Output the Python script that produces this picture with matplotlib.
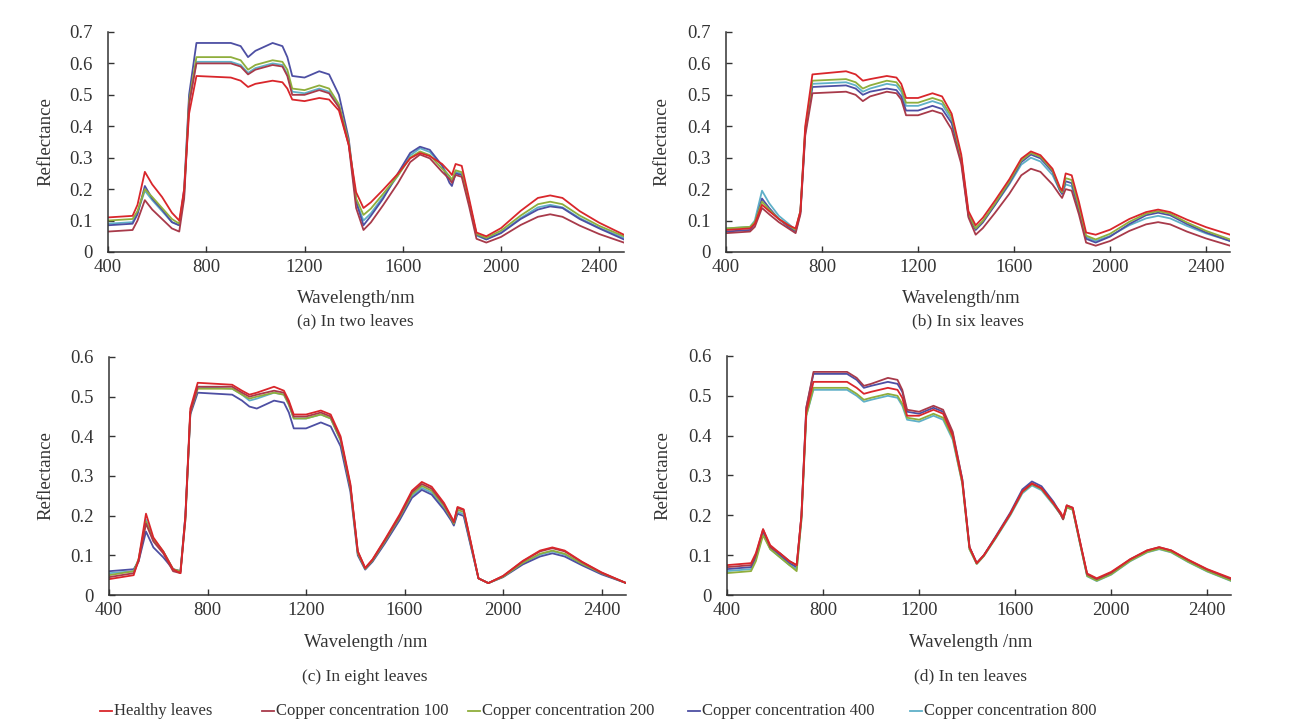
import matplotlib.pyplot as plt
from matplotlib.lines import Line2D

plt.rcParams["font.family"] = ["Liberation Serif", "DejaVu Serif"]

# Wavelength sample points (nm)
WL = [400, 500, 520, 550, 580, 620, 660, 690, 710, 730, 760, 900, 940, 970, 1000,
      1070, 1110, 1130, 1150, 1200, 1260, 1300, 1340, 1380, 1410, 1440, 1470, 1520,
      1580, 1630, 1670, 1710, 1760, 1790, 1800, 1815, 1840, 1870, 1900, 1940, 2000,
      2080, 2150, 2200, 2250, 2320, 2400, 2500]

# --- (a) two leaves ---
a_healthy = [0.11, 0.115, 0.15, 0.255, 0.215, 0.175, 0.125, 0.10, 0.20, 0.44, 0.56, 0.555, 0.545, 0.525, 0.535,
             0.545, 0.54, 0.52, 0.485, 0.48, 0.49, 0.485, 0.45, 0.34, 0.19, 0.14, 0.158, 0.198,
             0.249, 0.298, 0.315, 0.305, 0.28, 0.255, 0.245, 0.28, 0.274, 0.17, 0.062, 0.05, 0.076,
             0.131, 0.172, 0.18, 0.172, 0.13, 0.093, 0.055]
a_cu100 = [0.065, 0.07, 0.10, 0.165, 0.135, 0.105, 0.075, 0.065, 0.17, 0.47, 0.60, 0.60, 0.59, 0.565, 0.58,
           0.595, 0.59, 0.56, 0.50, 0.50, 0.515, 0.505, 0.46, 0.34, 0.14, 0.07, 0.094, 0.149,
           0.219, 0.286, 0.31, 0.298, 0.255, 0.232, 0.22, 0.245, 0.239, 0.145, 0.042, 0.03, 0.048,
           0.086, 0.112, 0.12, 0.112, 0.084, 0.057, 0.03]
a_cu200 = [0.10, 0.105, 0.13, 0.20, 0.175, 0.14, 0.105, 0.09, 0.19, 0.48, 0.62, 0.62, 0.61, 0.58, 0.595,
           0.61, 0.605, 0.58, 0.52, 0.515, 0.53, 0.52, 0.47, 0.35, 0.17, 0.118, 0.138, 0.185,
           0.243, 0.30, 0.32, 0.308, 0.265, 0.242, 0.23, 0.26, 0.254, 0.16, 0.057, 0.045, 0.068,
           0.116, 0.152, 0.16, 0.152, 0.116, 0.083, 0.05]
a_cu400 = [0.085, 0.09, 0.12, 0.21, 0.17, 0.135, 0.095, 0.085, 0.20, 0.50, 0.665, 0.665, 0.655, 0.62, 0.64,
           0.665, 0.655, 0.62, 0.56, 0.555, 0.575, 0.565, 0.50, 0.36, 0.16, 0.085, 0.115, 0.17,
           0.25, 0.315, 0.335, 0.325, 0.275, 0.22, 0.21, 0.25, 0.245, 0.16, 0.055, 0.04, 0.06,
           0.105, 0.135, 0.145, 0.14, 0.105, 0.075, 0.04]
a_cu800 = [0.09, 0.095, 0.125, 0.195, 0.165, 0.13, 0.095, 0.085, 0.18, 0.475, 0.605, 0.605, 0.595, 0.57, 0.585,
           0.60, 0.595, 0.565, 0.51, 0.505, 0.52, 0.51, 0.465, 0.345, 0.16, 0.10, 0.123, 0.176,
           0.243, 0.307, 0.33, 0.318, 0.275, 0.237, 0.225, 0.255, 0.249, 0.155, 0.052, 0.04, 0.062,
           0.108, 0.142, 0.15, 0.142, 0.108, 0.077, 0.045]

# --- (b) six leaves ---
b_healthy = [0.07, 0.075, 0.09, 0.15, 0.13, 0.105, 0.085, 0.075, 0.13, 0.40, 0.565, 0.575, 0.565, 0.545, 0.55,
             0.56, 0.555, 0.535, 0.49, 0.49, 0.505, 0.495, 0.44, 0.31, 0.13, 0.085, 0.109, 0.163,
             0.231, 0.297, 0.32, 0.308, 0.265, 0.207, 0.195, 0.25, 0.244, 0.16, 0.062, 0.055, 0.071,
             0.105, 0.127, 0.135, 0.127, 0.103, 0.079, 0.055]
b_cu100 = [0.06, 0.065, 0.08, 0.14, 0.12, 0.095, 0.075, 0.06, 0.12, 0.37, 0.505, 0.51, 0.50, 0.48, 0.495,
           0.51, 0.505, 0.485, 0.435, 0.435, 0.45, 0.44, 0.39, 0.28, 0.11, 0.055, 0.076, 0.124,
           0.185, 0.244, 0.265, 0.255, 0.215, 0.182, 0.172, 0.20, 0.195, 0.12, 0.03, 0.02, 0.035,
           0.067, 0.088, 0.095, 0.088, 0.065, 0.043, 0.02]
b_cu200 = [0.075, 0.08, 0.095, 0.16, 0.135, 0.105, 0.085, 0.07, 0.13, 0.39, 0.545, 0.55, 0.54, 0.52, 0.53,
           0.545, 0.54, 0.52, 0.475, 0.475, 0.49, 0.48, 0.43, 0.30, 0.12, 0.075, 0.099, 0.154,
           0.224, 0.291, 0.315, 0.303, 0.26, 0.202, 0.19, 0.235, 0.229, 0.145, 0.052, 0.04, 0.058,
           0.096, 0.122, 0.13, 0.122, 0.094, 0.067, 0.04]
b_cu400 = [0.065, 0.07, 0.09, 0.17, 0.14, 0.105, 0.08, 0.065, 0.125, 0.38, 0.525, 0.53, 0.52, 0.50, 0.51,
           0.52, 0.515, 0.495, 0.45, 0.45, 0.465, 0.455, 0.41, 0.29, 0.115, 0.07, 0.094, 0.149,
           0.219, 0.286, 0.31, 0.298, 0.255, 0.197, 0.185, 0.225, 0.219, 0.135, 0.042, 0.03, 0.049,
           0.089, 0.117, 0.125, 0.117, 0.089, 0.062, 0.035]
b_cu800 = [0.075, 0.08, 0.10, 0.195, 0.155, 0.115, 0.09, 0.07, 0.13, 0.385, 0.535, 0.54, 0.53, 0.51, 0.52,
           0.535, 0.53, 0.51, 0.465, 0.465, 0.48, 0.47, 0.42, 0.30, 0.12, 0.075, 0.098, 0.149,
           0.215, 0.278, 0.30, 0.288, 0.245, 0.197, 0.185, 0.215, 0.209, 0.13, 0.047, 0.035, 0.051,
           0.085, 0.107, 0.115, 0.107, 0.083, 0.059, 0.035]

# --- (c) eight leaves ---
c_healthy = [0.04, 0.05, 0.09, 0.205, 0.145, 0.11, 0.065, 0.055, 0.20, 0.47, 0.535, 0.53, 0.515, 0.505, 0.51,
             0.525, 0.515, 0.49, 0.455, 0.455, 0.465, 0.455, 0.40, 0.28, 0.11, 0.068, 0.09, 0.14,
             0.203, 0.263, 0.285, 0.273, 0.232, 0.197, 0.185, 0.222, 0.216, 0.13, 0.042, 0.03, 0.048,
             0.086, 0.112, 0.12, 0.112, 0.084, 0.057, 0.03]
c_cu100 = [0.045, 0.055, 0.085, 0.18, 0.135, 0.105, 0.06, 0.055, 0.19, 0.46, 0.525, 0.525, 0.51, 0.50, 0.505,
           0.515, 0.51, 0.485, 0.45, 0.45, 0.46, 0.45, 0.395, 0.275, 0.11, 0.068, 0.089, 0.138,
           0.199, 0.259, 0.28, 0.268, 0.228, 0.195, 0.183, 0.22, 0.214, 0.129, 0.042, 0.03, 0.048,
           0.085, 0.11, 0.118, 0.11, 0.083, 0.056, 0.03]
c_cu200 = [0.05, 0.06, 0.09, 0.185, 0.14, 0.11, 0.065, 0.06, 0.19, 0.46, 0.52, 0.52, 0.505, 0.495, 0.50,
           0.51, 0.505, 0.48, 0.445, 0.445, 0.455, 0.445, 0.39, 0.27, 0.105, 0.066, 0.087, 0.135,
           0.196, 0.254, 0.275, 0.263, 0.224, 0.192, 0.18, 0.215, 0.209, 0.126, 0.042, 0.03, 0.046,
           0.081, 0.104, 0.112, 0.104, 0.079, 0.055, 0.03]
c_cu400 = [0.06, 0.065, 0.085, 0.16, 0.12, 0.095, 0.065, 0.06, 0.20, 0.455, 0.51, 0.505, 0.49, 0.475, 0.47,
           0.49, 0.485, 0.46, 0.42, 0.42, 0.435, 0.425, 0.375, 0.26, 0.10, 0.064, 0.084, 0.13,
           0.189, 0.245, 0.265, 0.253, 0.215, 0.187, 0.175, 0.205, 0.199, 0.12, 0.042, 0.03, 0.045,
           0.077, 0.097, 0.105, 0.097, 0.075, 0.052, 0.03]
c_cu800 = [0.055, 0.06, 0.09, 0.19, 0.14, 0.11, 0.065, 0.06, 0.20, 0.46, 0.525, 0.52, 0.505, 0.49, 0.495,
           0.51, 0.505, 0.48, 0.445, 0.445, 0.455, 0.445, 0.39, 0.275, 0.105, 0.066, 0.086, 0.133,
           0.192, 0.25, 0.27, 0.258, 0.22, 0.19, 0.178, 0.21, 0.204, 0.123, 0.042, 0.03, 0.046,
           0.08, 0.102, 0.11, 0.102, 0.078, 0.054, 0.03]

# --- (d) ten leaves ---
d_healthy = [0.075, 0.08, 0.105, 0.165, 0.125, 0.105, 0.085, 0.075, 0.20, 0.46, 0.535, 0.535, 0.52, 0.505, 0.51,
             0.52, 0.515, 0.495, 0.45, 0.45, 0.465, 0.455, 0.40, 0.285, 0.12, 0.08, 0.10, 0.146,
             0.204, 0.26, 0.28, 0.268, 0.23, 0.207, 0.195, 0.225, 0.219, 0.135, 0.054, 0.042, 0.058,
             0.09, 0.112, 0.12, 0.112, 0.089, 0.065, 0.042]
d_cu100 = [0.07, 0.075, 0.10, 0.165, 0.12, 0.105, 0.085, 0.075, 0.20, 0.47, 0.56, 0.56, 0.545, 0.525, 0.53,
           0.545, 0.54, 0.515, 0.465, 0.46, 0.475, 0.465, 0.41, 0.29, 0.12, 0.08, 0.10, 0.146,
           0.204, 0.26, 0.28, 0.268, 0.23, 0.202, 0.19, 0.225, 0.219, 0.135, 0.052, 0.04, 0.056,
           0.09, 0.112, 0.12, 0.112, 0.088, 0.064, 0.04]
d_cu200 = [0.055, 0.06, 0.085, 0.15, 0.115, 0.095, 0.075, 0.06, 0.19, 0.45, 0.52, 0.52, 0.505, 0.49, 0.495,
           0.505, 0.50, 0.48, 0.445, 0.44, 0.455, 0.445, 0.395, 0.28, 0.115, 0.078, 0.098, 0.144,
           0.202, 0.258, 0.278, 0.266, 0.228, 0.202, 0.19, 0.22, 0.214, 0.13, 0.048, 0.036, 0.052,
           0.086, 0.108, 0.116, 0.108, 0.084, 0.06, 0.036]
d_cu400 = [0.065, 0.07, 0.095, 0.16, 0.12, 0.10, 0.08, 0.07, 0.20, 0.47, 0.555, 0.555, 0.54, 0.52, 0.525,
           0.535, 0.53, 0.51, 0.46, 0.455, 0.47, 0.46, 0.405, 0.29, 0.12, 0.08, 0.10, 0.148,
           0.207, 0.265, 0.285, 0.273, 0.234, 0.204, 0.192, 0.222, 0.216, 0.132, 0.05, 0.038, 0.054,
           0.088, 0.11, 0.118, 0.11, 0.086, 0.062, 0.038]
d_cu800 = [0.06, 0.065, 0.09, 0.155, 0.115, 0.095, 0.075, 0.065, 0.19, 0.45, 0.515, 0.515, 0.50, 0.485, 0.49,
           0.50, 0.495, 0.475, 0.44, 0.435, 0.45, 0.44, 0.39, 0.28, 0.115, 0.078, 0.098, 0.143,
           0.20, 0.255, 0.275, 0.263, 0.226, 0.202, 0.19, 0.22, 0.214, 0.13, 0.047, 0.035, 0.051,
           0.085, 0.107, 0.115, 0.107, 0.083, 0.059, 0.035]

LABELS = ["Healthy leaves", "Copper concentration 100", "Copper concentration 200",
          "Copper concentration 400", "Copper concentration 800"]
COLORS = ["#d9262b", "#a83a4a", "#8fae3c", "#4d4fa3", "#5fb0c8"]
X_TICKS = [400, 800, 1200, 1600, 2000, 2400]

# (rect, ymax, series, xlabel, xlabel pos, caption, caption pos, ylabel x in axes coords)
panels = [
    ([0.0827, 0.650, 0.395, 0.3056], 0.7, [a_healthy, a_cu100, a_cu200, a_cu400, a_cu800],
     "Wavelength/nm", (0.273, 0.586), "(a) In two leaves", (0.272, 0.553), -0.120),
    ([0.5559, 0.650, 0.386, 0.3056], 0.7, [b_healthy, b_cu100, b_cu200, b_cu400, b_cu800],
     "Wavelength/nm", (0.736, 0.586), "(b) In six leaves", (0.741, 0.553), -0.127),
    ([0.0835, 0.1736, 0.396, 0.3306], 0.6, [c_healthy, c_cu100, c_cu200, c_cu400, c_cu800],
     "Wavelength /nm", (0.280, 0.108), "(c) In eight leaves", (0.279, 0.060), -0.122),
    ([0.5567, 0.1736, 0.386, 0.3320], 0.6, [d_healthy, d_cu100, d_cu200, d_cu400, d_cu800],
     "Wavelength /nm", (0.743, 0.108), "(d) In ten leaves", (0.743, 0.060), -0.128),
]

fig = plt.figure(figsize=(13.06, 7.2), dpi=100)

for rect, ymax, series, xlab, xlab_pos, caption, cap_pos, ylab_x in panels:
    ax = fig.add_axes(rect)
    # draw lightest first so red ends up on top, like the scan
    for idx in [4, 3, 2, 1, 0]:
        ax.plot(WL, series[idx], color=COLORS[idx], lw=1.3)
    ax.set_xlim(400, 2500)
    ax.set_ylim(0, ymax)
    ax.set_xticks(X_TICKS)
    yt = [i / 10 for i in range(int(round(ymax * 10)) + 1)]
    ax.set_yticks(yt)
    ax.set_yticklabels(["0"] + [f"{v:.1f}" for v in yt[1:]])
    for side in ["top", "right"]:
        ax.spines[side].set_visible(False)
    for side in ["left", "bottom"]:
        ax.spines[side].set_color("#333333")
        ax.spines[side].set_linewidth(1.1)
    ax.tick_params(direction="in", length=4, width=1, colors="#333333", labelsize=13.5)
    ax.tick_params(axis="x", pad=5)
    ax.tick_params(axis="y", pad=11)
    ax.set_ylabel("Reflectance", fontsize=13.5, color="#333333", va="center")
    ax.yaxis.set_label_coords(ylab_x, 0.5)
    fig.text(xlab_pos[0], xlab_pos[1], xlab, ha="center", va="center", fontsize=13.5, color="#333333")
    fig.text(cap_pos[0], cap_pos[1], caption, ha="center", va="center", fontsize=12.5, color="#333333")

# legend along the bottom, placed by hand like the original
leg_x = [100, 262, 468, 688, 910]
leg_y = 1 - 711 / 720
for x0, lab, col in zip(leg_x, LABELS, COLORS):
    fig.add_artist(Line2D([x0 / 1306, (x0 + 12) / 1306], [leg_y, leg_y], color=col, lw=1.3))
    fig.text((x0 + 14) / 1306, leg_y, lab, ha="left", va="center", fontsize=12, color="#333333")

fig.savefig("out.png", dpi=100, facecolor="white")
